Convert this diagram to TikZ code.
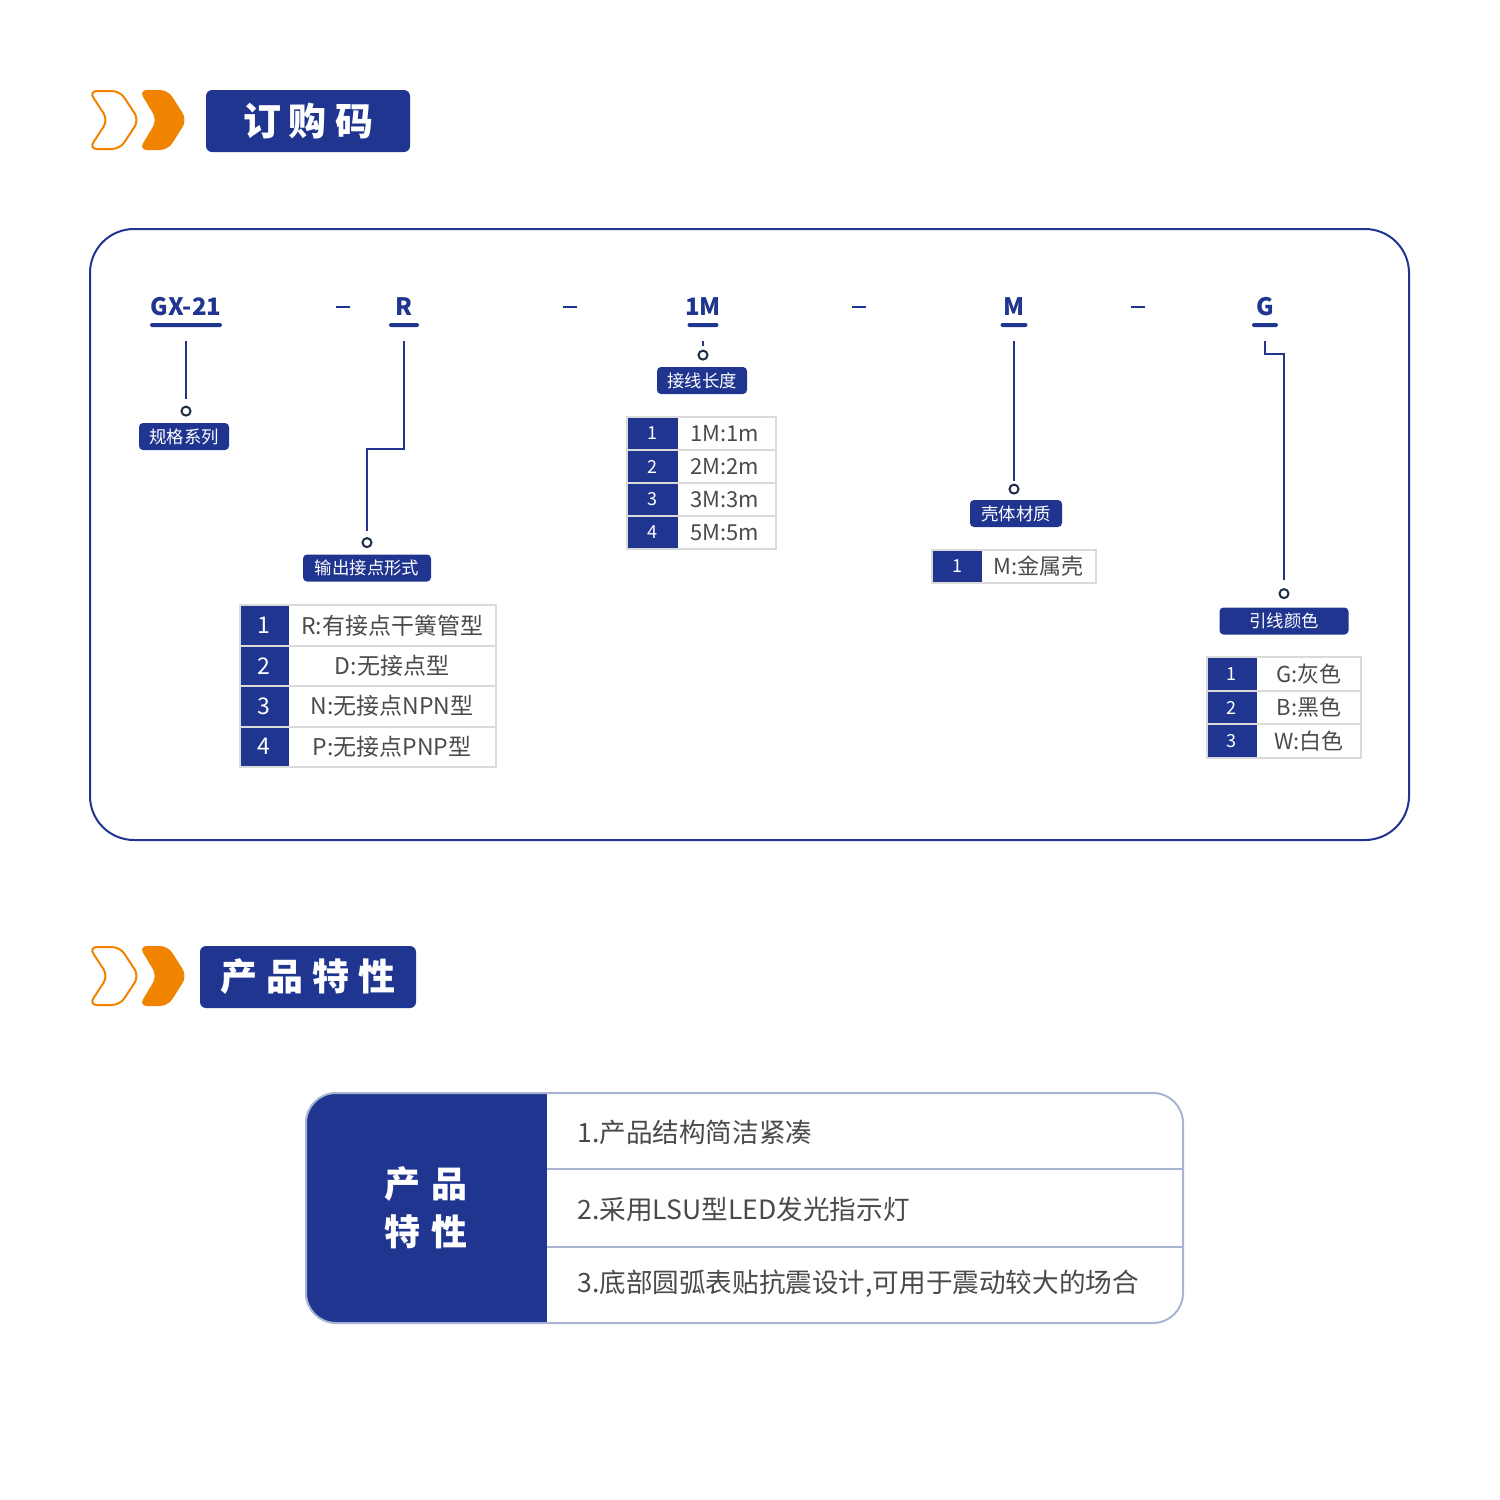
\documentclass[tikz,border=0pt]{standalone}
\usepackage{fontspec}
\setmainfont{Noto Sans CJK SC}
\usetikzlibrary{positioning}
\definecolor{navy}{HTML}{1F3590}
\definecolor{chev}{HTML}{F08300}
\definecolor{txtgray}{HTML}{4A4A4A}
\definecolor{cellline}{HTML}{DADADA}
\definecolor{boxline}{HTML}{A9B4D4}
\definecolor{pinline}{HTML}{1E2B45}
\tikzset{
  codetxt/.style={text=navy,font=\fontsize{12}{12}\selectfont\bfseries,inner sep=0},
  codebar/.style={fill=navy,rounded corners=1pt,minimum height=2pt,inner sep=0},
  lead/.style={draw=navy,line width=1pt},
  pin/.style={circle,draw=pinline,line width=1pt,minimum size=4.5pt,inner sep=0},
  tag/.style={fill=navy,rounded corners=2pt,text=white,font=\fontsize{8.7}{8.7}\selectfont,inner sep=0,minimum height=13.5pt},
  headbox/.style={fill=navy,rounded corners=3pt,text=white,font=\fontsize{19}{19}\selectfont\bfseries,inner sep=0,minimum height=31pt},
  numtxt/.style={text=white,inner sep=0},
  celltxt/.style={text=txtgray,inner sep=0}
}
\begin{document}
\begin{tikzpicture}[x=0.5pt,y=-0.5pt]
\useasboundingbox (0,0) rectangle (1500,1500);
% heading 1
\draw[chev,line width=1pt,rounded corners=4pt] (89,91) -- (120,91) -- (139,120) -- (120,149) -- (89,149) -- (108,120) -- cycle;
\fill[chev,rounded corners=4pt] (139,90) -- (168,90) -- (187,120) -- (168,150) -- (139,150) -- (157,120) -- cycle;
\node[headbox,minimum width=102pt] (ordhead) at (308,121) {订\hspace{4pt}购\hspace{4pt}码};

% order code frame
\draw[navy,line width=1pt,rounded corners=22pt] (90,229) rectangle (1409,840);

\node[codetxt] (gx) at (186,307) {GX-21};
\node[codetxt] (r) at (404,307) {R};
\node[codetxt] (len) at (703,307) {1M};
\node[codetxt] (mat) at (1014,307) {M};
\node[codetxt] (col) at (1265,307) {G};
\foreach \x [count=\i] in {343,570,859,1138}
  \node[codetxt] (dash\i) at (\x,307) {\rule{7pt}{1pt}};

\node[codebar,minimum width=36pt] (gxbar) at (186,325) {};
\node[codebar,minimum width=15pt] (rbar) at (404,325) {};
\node[codebar,minimum width=15.5pt] (lenbar) at (703,325) {};
\node[codebar,minimum width=13.5pt] (matbar) at (1014,325) {};
\node[codebar,minimum width=13pt] (colbar) at (1265,325) {};

% tags and pins
\node[tag,minimum width=45pt] (gxtag) at (184,436.5) {规格系列};
\node[tag,minimum width=64pt] (rtag) at (367,568) {输出接点形式};
\node[tag,minimum width=45pt] (lentag) at (702,380.5) {接线长度};
\node[tag,minimum width=46pt] (mattag) at (1016,513.5) {壳体材质};
\node[tag,minimum width=64.5pt] (coltag) at (1284,621) {引线颜色};

\node[pin,above=3pt of gxtag.north -| gxbar] (gxpin) {};
\node[pin,above=3pt of rtag] (rpin) {};
\node[pin,above=3pt of lentag.north -| lenbar] (lenpin) {};
\node[pin,above=2.5pt of mattag.north -| matbar] (matpin) {};
\node[pin,above=4pt of coltag.north] (colpin) {};

\coordinate (rbend) at (367,449);
\coordinate (colbend) at (1284,354);
\draw[lead,shorten >=3.5pt] ([yshift=-7pt]gxbar.south) -- (gxpin.north);
\draw[lead,shorten >=3pt] ([yshift=-7pt]rbar.south) |- (rbend) -- (rpin.north);
\draw[lead,shorten >=1pt] ([yshift=-7pt]lenbar.south) -- ([yshift=-10.5pt]lenbar.south);
\draw[lead,shorten >=1.5pt] ([yshift=-7pt]matbar.south) -- (matpin.north);
\draw[lead,shorten >=4pt] ([yshift=-7pt]colbar.south) |- (colbend) -- (colpin.north);

% table R
\foreach \t [count=\i] in {R:有接点干簧管型,D:无接点型,N:无接点NPN型,P:无接点PNP型} {
  \fill[navy] (240,{605+(\i-1)*40.5}) rectangle (289,{605+\i*40.5});
  \node[numtxt,font=\fontsize{11.5}{11.5}\selectfont] (rn\i) at (264,{605+(\i-.5)*40.5}) {\i};
  \node[celltxt,font=\fontsize{11.5}{11.5}\selectfont] (rt\i) at (392,{605+(\i-.5)*40.5}) {\t};
  \draw[cellline,line width=1pt] (240,{605+(\i-1)*40.5}) rectangle (496,{605+\i*40.5});
}
% table 1M
\foreach \t [count=\i] in {1M:1m,2M:2m,3M:3m,5M:5m} {
  \fill[navy] (627,{417+(\i-1)*33}) rectangle (678,{417+\i*33});
  \node[numtxt,font=\fontsize{9}{9}\selectfont] (lenn\i) at (652,{417+(\i-.5)*33}) {\i};
  \node[celltxt,anchor=west,font=\fontsize{11}{11}\selectfont] (lent\i) at (690,{417+(\i-.5)*33}) {\t};
  \draw[cellline,line width=1pt] (627,{417+(\i-1)*33}) rectangle (776,{417+\i*33});
}
% table M
\fill[navy] (932,550) rectangle (982,583);
\node[numtxt,font=\fontsize{9}{9}\selectfont] (matn1) at (957,566.5) {1};
\node[celltxt,anchor=west,font=\fontsize{11}{11}\selectfont] (matt1) at (993,566.5) {M:金属壳};
\draw[cellline,line width=1pt] (932,550) rectangle (1096,583);
% table G
\foreach \t [count=\i] in {G:灰色,B:黑色,W:白色} {
  \fill[navy] (1207,{657+(\i-1)*33.7}) rectangle (1257,{657+\i*33.7});
  \node[numtxt,font=\fontsize{9}{9}\selectfont] (coln\i) at (1231,{657+(\i-.5)*33.7}) {\i};
  \node[celltxt,font=\fontsize{11}{11}\selectfont] (colt\i) at (1309,{657+(\i-.5)*33.7}) {\t};
  \draw[cellline,line width=1pt] (1207,{657+(\i-1)*33.7}) rectangle (1361,{657+\i*33.7});
}

% heading 2
\draw[chev,line width=1pt,rounded corners=4pt] (89,947) -- (120,947) -- (139,976) -- (120,1005) -- (89,1005) -- (108,976) -- cycle;
\fill[chev,rounded corners=4pt] (139,946) -- (168,946) -- (187,976) -- (168,1006) -- (139,1006) -- (157,976) -- cycle;
\node[headbox,minimum width=108pt,font=\fontsize{18.5}{18.5}\selectfont\bfseries] (feathead) at (308,977) {产\hspace{4.5pt}品\hspace{4.5pt}特\hspace{4.5pt}性};

% feature box
\begin{scope}
  \clip[rounded corners=15pt] (306,1093) rectangle (1183,1323);
  \fill[navy] (306,1093) rectangle (547,1323);
\end{scope}
\draw[boxline,line width=1pt,rounded corners=15pt] (306,1093) rectangle (1183,1323);
\draw[boxline,line width=1pt] (547,1169) -- (1183,1169);
\draw[boxline,line width=1pt] (547,1247) -- (1183,1247);
\node[text=white,inner sep=0,font=\fontsize{18}{18}\selectfont\bfseries] (feat1) at (426,1184) {产\hspace{6pt}品};
\node[text=white,inner sep=0,font=\fontsize{18}{18}\selectfont\bfseries] (feat2) at (426,1232) {特\hspace{6pt}性};
\node[celltxt,anchor=west,font=\fontsize{13.3}{13.3}\selectfont] (item1) at (577,1132) {1.产品结构简洁紧凑};
\node[celltxt,anchor=west,font=\fontsize{13.3}{13.3}\selectfont] (item2) at (577,1209) {2.采用LSU型LED发光指示灯};
\node[celltxt,anchor=west,font=\fontsize{13.3}{13.3}\selectfont] (item3) at (577,1284) {3.底部圆弧表贴抗震设计,可用于震动较大的场合};
\end{tikzpicture}
\end{document}
